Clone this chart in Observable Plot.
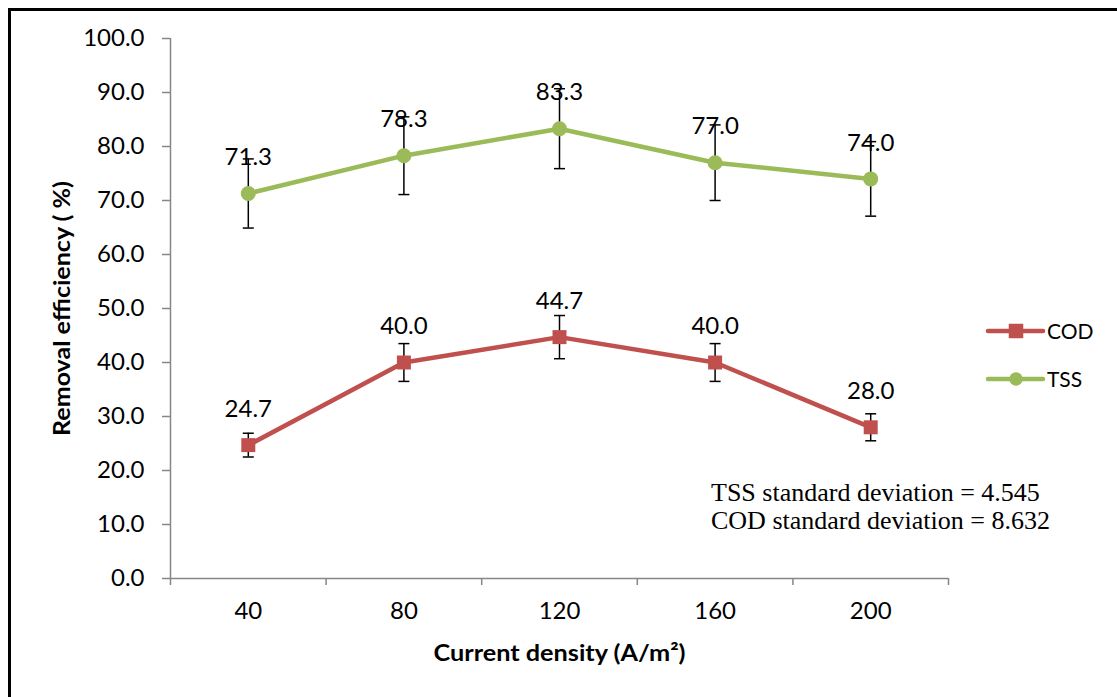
<!DOCTYPE html>
<html><head><meta charset="utf-8">
<script src="https://cdn.jsdelivr.net/npm/d3@7"></script>
<script src="https://cdn.jsdelivr.net/npm/@observablehq/plot@0.6"></script>
<style>
body{margin:0;background:#fff;}
#wrap{position:relative;width:1117px;height:697px;overflow:hidden;background:#fff;}
#frame{position:absolute;left:8px;top:8px;width:1300px;height:900px;border-left:3px solid #000;border-top:3px solid #000;pointer-events:none;}
#chart{position:absolute;left:0;top:0;}
#legend{position:absolute;left:980px;top:312px;font-family:Lato,"Open Sans",sans-serif;}
#note{position:absolute;left:711px;top:479px;font-family:"Liberation Serif","Times New Roman",serif;font-size:26px;line-height:28px;color:#000;white-space:nowrap;}
</style></head>
<body>
<div id="wrap"><div id="chart"></div><div id="legend"></div><div id="note"></div><div id="frame"></div></div>
<script>
const densities = [40, 80, 120, 160, 200];
const codValues = [24.7, 40.0, 44.7, 40.0, 28.0];
const codErrors = [2.2, 3.5, 4.0, 3.5, 2.5];
const tssValues = [71.3, 78.3, 83.3, 77.0, 74.0];
const tssErrors = [6.4, 7.2, 7.4, 7.0, 6.9];
const bandEdges = [20, 60, 100, 140, 180, 220];
const yTicks = [0, 10, 20, 30, 40, 50, 60, 70, 80, 90, 100];
const seriesNames = ["COD", "TSS"];
const seriesColors = ["#C0504D", "#9BBB59"];
const seriesSymbols = ["square", "circle"];
const notes = ["TSS standard deviation = 4.545", "COD standard deviation = 8.632"];
const yTitle = "Removal efficiency ( %)";
const xTitle = "Current density (A/m²)";

const cod = densities.map((d, i) => ({x: d, y: codValues[i], e: codErrors[i]}));
const tss = densities.map((d, i) => ({x: d, y: tssValues[i], e: tssErrors[i]}));
const all = cod.concat(tss);

const capSymbol = {draw(ctx, size) { const r = Math.sqrt(size / Math.PI); ctx.moveTo(-r, 0); ctx.lineTo(r, 0); }};

const font = "Lato, 'Open Sans', sans-serif";
const chart = Plot.plot({
  width: 1117, height: 697,
  marginLeft: 170, marginRight: 169, marginTop: 38, marginBottom: 119,
  x: {type: "linear", domain: [20, 220]},
  y: {domain: [0, 100]},
  style: {fontFamily: font, fontSize: "24px", color: "#000", background: "transparent"},
  marks: [
    Plot.axisY({ticks: yTicks, tickFormat: d3.format(".1f"), tickSize: 8, tickPadding: 18, stroke: "#868686", strokeWidth: 1.5, label: null, fontSize: 24}),
    Plot.axisX({ticks: bandEdges, tickFormat: () => "", tickSize: 7, stroke: "#868686", strokeWidth: 1.5, label: null}),
    Plot.axisX({ticks: densities, tickSize: 0, tickPadding: 23, label: null, fontSize: 24}),
    Plot.ruleX([20], {stroke: "#868686", strokeWidth: 1.5}),
    Plot.ruleY([0], {stroke: "#868686", strokeWidth: 1.5}),
    Plot.ruleX(all, {x: "x", y1: d => d.y - d.e, y2: d => d.y + d.e, stroke: "#000", strokeWidth: 1.5}),
    Plot.dot(all, {x: "x", y: d => d.y + d.e, symbol: capSymbol, r: 5.5, stroke: "#000", strokeWidth: 1.5, fill: "none"}),
    Plot.dot(all, {x: "x", y: d => d.y - d.e, symbol: capSymbol, r: 5.5, stroke: "#000", strokeWidth: 1.5, fill: "none"}),
    Plot.line(cod, {x: "x", y: "y", stroke: seriesColors[0], strokeWidth: 4.5}),
    Plot.line(tss, {x: "x", y: "y", stroke: seriesColors[1], strokeWidth: 4.5}),
    Plot.dot(cod, {x: "x", y: "y", symbol: "square", r: 7.9, fill: seriesColors[0], stroke: "none"}),
    Plot.dot(tss, {x: "x", y: "y", symbol: "circle", r: 7.5, fill: seriesColors[1], stroke: "none"}),
    Plot.text(all, {x: "x", y: "y", text: d => d.y.toFixed(1), dy: -36, fontSize: 24, fill: "#000"}),
    Plot.text([yTitle], {frameAnchor: "left", textAnchor: "middle", dx: -108, rotate: -90, fontWeight: "bold", fontSize: 23, fill: "#000", className: "ytitle"}),
    Plot.text([xTitle], {frameAnchor: "bottom", dy: 82, fontWeight: "bold", fontSize: 23, fill: "#000", className: "xtitle"})
  ]
});
document.getElementById("chart").appendChild(chart);
d3.select(chart).selectAll(".ytitle text").attr("textLength", 255).attr("lengthAdjust", "spacingAndGlyphs");
d3.select(chart).selectAll(".xtitle text").attr("textLength", 252).attr("lengthAdjust", "spacingAndGlyphs");

// legend
const lg = d3.select("#legend").append("svg").attr("width", 137).attr("height", 90).style("overflow", "visible");
seriesNames.forEach((name, i) => {
  const g = lg.append("g").attr("transform", `translate(0,${19 + i * 48})`);
  g.append("line").attr("x1", 8).attr("x2", 63).attr("stroke", seriesColors[i]).attr("stroke-width", 4.5).attr("stroke-linecap", "round");
  g.append("path").attr("transform", "translate(36,0)")
    .attr("d", d3.symbol(seriesSymbols[i] === "square" ? d3.symbolSquare : d3.symbolCircle, seriesSymbols[i] === "square" ? 210 : 140)())
    .attr("fill", seriesColors[i]);
  g.append("text").attr("x", 67).attr("dy", "0.36em").attr("font-size", 21).attr("font-family", "Lato, 'Open Sans', sans-serif").text(name);
});

d3.select("#note").selectAll("div").data(notes).join("div").text(d => d);
</script>
</body></html>
